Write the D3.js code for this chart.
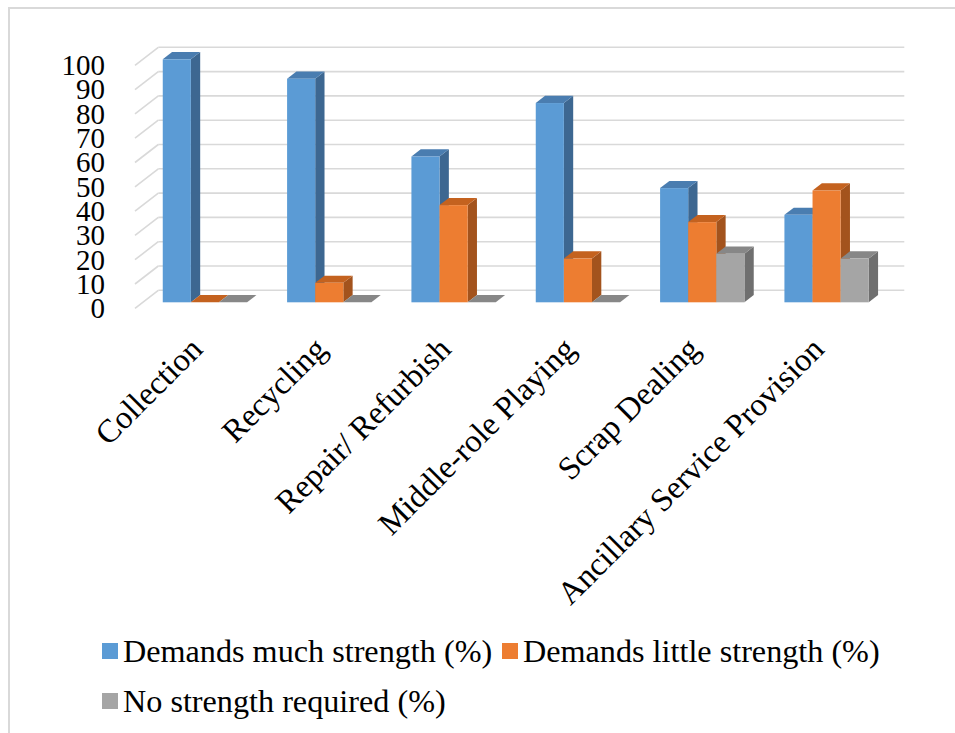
<!DOCTYPE html>
<html>
<head>
<meta charset="utf-8">
<script src="https://cdn.jsdelivr.net/npm/d3@7"></script>
<style>
  body { margin: 0; background: #fff; }
  text { font-family: "Liberation Serif", "Times New Roman", serif; fill: #000; }
</style>
</head>
<body>
<div id="chart"></div>
<script>
// Chart data
const categories = ["Collection", "Recycling", "Repair/ Refurbish", "Middle-role Playing", "Scrap Dealing", "Ancillary Service Provision"];
const seriesNames = ["Demands much strength (%)", "Demands little strength (%)", "No strength required (%)"];
const muchStrength = [100, 92, 60, 82, 47, 36];
const littleStrength = [0, 8, 40, 18, 33, 46];
const noStrength = [0, 0, 0, 0, 20, 18];
const yTicks = [0, 10, 20, 30, 40, 50, 60, 70, 80, 90, 100];

const seriesValues = [muchStrength, littleStrength, noStrength];
// front / side / top shades for each series
const shades = [
  { front: "#5b9bd5", side: "#3d6791", top: "#4a7db0" },
  { front: "#ed7d31", side: "#a3531d", top: "#c4621f" },
  { front: "#a5a5a5", side: "#6f6f6f", top: "#878787" }
];

const width = 955, height = 733;

// Set up the 3D-ish frame: front plane + depth vector
const depth = { dx: 23.3, dy: -18 };
const barFront = 0.333, barBack = 0.733; // fraction of depth occupied by bars

const x = d3.scaleBand()
  .domain(categories)
  .range([135, 881])
  .paddingInner(0)
  .paddingOuter(0);

const y = d3.scaleLinear()
  .domain([0, 100])
  .range([308.3, 65.3]);

const xSeries = d3.scaleBand()
  .domain(d3.range(seriesNames.length))
  .range([20, x.bandwidth() - 20]);

const svg = d3.select("#chart")
  .append("svg")
  .attr("width", width)
  .attr("height", height);

svg.append("rect")
  .attr("width", width)
  .attr("height", height)
  .attr("fill", "#fff");

// outer frame (only top and left show)
svg.append("path")
  .attr("d", `M9,${height} L9,8 L${width},8`)
  .attr("fill", "none")
  .attr("stroke", "#d9d9d9")
  .attr("stroke-width", 2);

// Back wall gridlines + side diagonals
const x0 = x.range()[0], x1 = x.range()[1];
const grid = svg.append("g")
  .attr("stroke", "#d9d9d9")
  .attr("stroke-width", 1.6)
  .attr("fill", "none");

grid.selectAll(".hgrid")
  .data(yTicks)
  .join("line")
  .attr("x1", x0 + depth.dx)
  .attr("x2", x1 + depth.dx)
  .attr("y1", d => y(d) + depth.dy)
  .attr("y2", d => y(d) + depth.dy);

grid.selectAll(".dgrid")
  .data(yTicks)
  .join("line")
  .attr("x1", x0)
  .attr("x2", x0 + depth.dx)
  .attr("y1", d => y(d))
  .attr("y2", d => y(d) + depth.dy);

// Y-axis labels
svg.append("g")
  .selectAll("text")
  .data(yTicks)
  .join("text")
  .attr("x", 105)
  .attr("y", d => y(d))
  .attr("dy", "0.34em")
  .attr("text-anchor", "end")
  .style("font-size", "29px")
  .text(d => d);

// Bars
const offX = depth.dx * barFront, offY = depth.dy * barFront;
const sideX = depth.dx * (barBack - barFront), sideY = depth.dy * (barBack - barFront);
const w = xSeries.bandwidth();

categories.forEach((cat, ci) => {
  const g = svg.append("g");
  seriesValues.forEach((vals, si) => {
    const v = vals[ci];
    const xl = x(cat) + xSeries(si) + offX;
    const xr = xl + w;
    const yb = y(0) + offY;
    const yt = y(v) + offY;
    const c = shades[si];

    // side face
    if (v > 0) {
      g.append("path")
        .attr("d", `M${xr},${yt} L${xr + sideX},${yt + sideY} L${xr + sideX},${yb + sideY} L${xr},${yb} Z`)
        .attr("fill", c.side);
    }
    // top face
    g.append("path")
      .attr("d", `M${xl},${yt} L${xl + sideX},${yt + sideY} L${xr + sideX},${yt + sideY} L${xr},${yt} Z`)
      .attr("fill", c.top);
    // front face
    if (v > 0) {
      g.append("rect")
        .attr("x", xl)
        .attr("y", yt)
        .attr("width", w)
        .attr("height", yb - yt)
        .attr("fill", c.front);
    }
  });
});

// Category labels, rotated
svg.append("g")
  .selectAll("text")
  .data(categories)
  .join("text")
  .attr("text-anchor", "end")
  .attr("transform", d => `translate(${x(d) + x.bandwidth() / 2 + 7},${351}) rotate(-45)`)
  .style("font-size", "32.5px")
  .text(d => d);

// Legend
const legendItems = [
  { name: seriesNames[0], color: shades[0].front, x: 102, y: 651 },
  { name: seriesNames[1], color: shades[1].front, x: 502, y: 651 },
  { name: seriesNames[2], color: shades[2].front, x: 102, y: 701 }
];

const legend = svg.append("g")
  .selectAll("g")
  .data(legendItems)
  .join("g")
  .attr("transform", d => `translate(${d.x},${d.y})`);

legend.append("rect")
  .attr("x", 0)
  .attr("y", -8)
  .attr("width", 16)
  .attr("height", 16)
  .attr("fill", d => d.color);

legend.append("text")
  .attr("x", 21)
  .attr("y", 0)
  .attr("dy", "0.34em")
  .style("font-size", "32.2px")
  .text(d => d.name);
</script>
</body>
</html>
